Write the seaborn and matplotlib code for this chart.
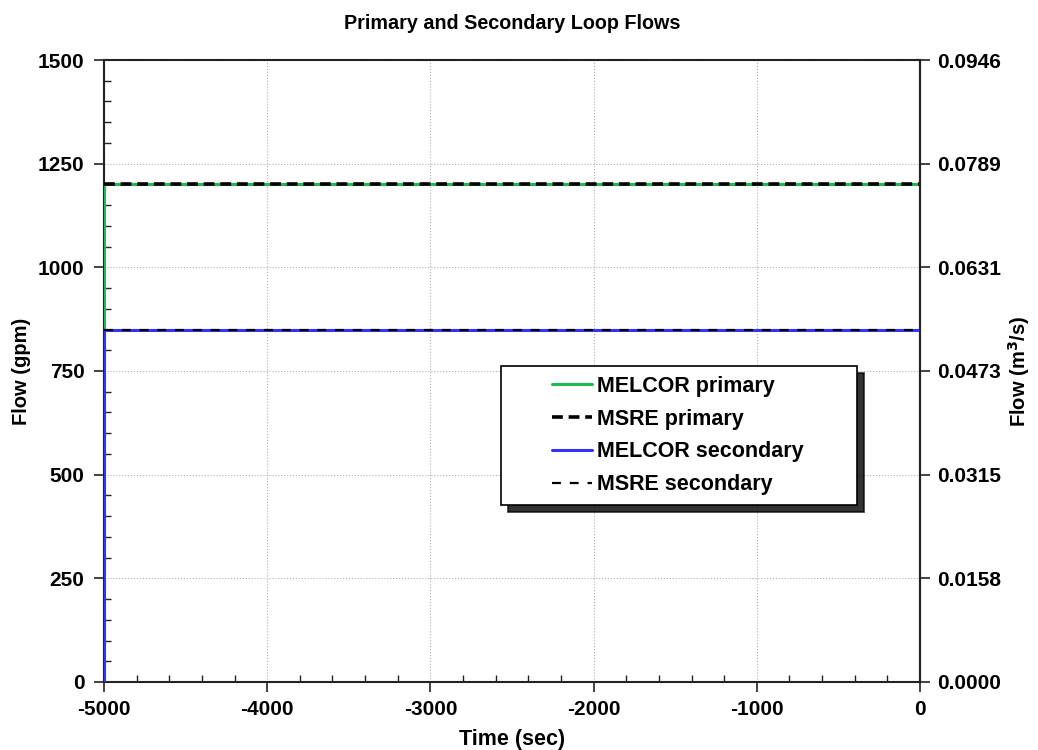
import numpy as np
import pandas as pd
import seaborn as sns
import matplotlib.pyplot as plt
from matplotlib.ticker import MultipleLocator
from matplotlib.legend_handler import HandlerLine2D

# Veriler
melcor_time = [-5000, -5000, 0]
melcor_primary = [0, 1200, 1200]
melcor_secondary = [0, 850, 850]
msre_time = [-5000, 0]
msre_primary = [1200, 1200]
msre_secondary = [850, 850]

gpm_to_m3s = 6.30902e-5
right_ticks = [0.0000, 0.0158, 0.0315, 0.0473, 0.0631, 0.0789, 0.0946]


# legend line only on the right half of the handle box
class RightLine(HandlerLine2D):
    def get_xdata(self, legend, xdescent, ydescent, width, height, fontsize):
        return ([-xdescent + 0.51 * width, -xdescent + width],
                [-xdescent + 0.75 * width])


sns.set_style("white")
plt.rcParams['font.family'] = ['Liberation Sans', 'DejaVu Sans']
plt.rcParams['font.weight'] = 'bold'
plt.rcParams['axes.unicode_minus'] = False
plt.rcParams['text.color'] = 'black'
plt.rcParams['axes.labelcolor'] = 'black'

fig = plt.figure(figsize=(10.38, 7.5), dpi=100)
ax = fig.add_axes([0.1002, 0.0907, 0.7861, 0.8293])

sns.lineplot(x=melcor_time, y=melcor_primary, sort=False, ax=ax, color="#1db954",
             linewidth=2.2, label="MELCOR primary", estimator=None, zorder=3)
sns.lineplot(x=msre_time, y=msre_primary, sort=False, ax=ax, color="black",
             linewidth=2.6, linestyle=(0, (3, 1.6)), label="MSRE primary",
             estimator=None, zorder=3)
sns.lineplot(x=melcor_time, y=melcor_secondary, sort=False, ax=ax, color="#3333ff",
             linewidth=2.2, label="MELCOR secondary", estimator=None, zorder=3)
sns.lineplot(x=msre_time, y=msre_secondary, sort=False, ax=ax, color="black",
             linewidth=1.6, linestyle=(0, (4, 4)), label="MSRE secondary",
             estimator=None, zorder=3)

ax.set_xlim(-5000, 0)
ax.set_ylim(0, 1500)
ax.xaxis.set_major_locator(MultipleLocator(1000))
ax.xaxis.set_minor_locator(MultipleLocator(200))
ax.yaxis.set_major_locator(MultipleLocator(250))
ax.yaxis.set_minor_locator(MultipleLocator(50))
ax.grid(True, which="major", color="#b0b0b0", linestyle=":", linewidth=0.8)
ax.tick_params(axis="both", which="major", direction="out", length=7, width=1.2,
               labelsize=15, colors="#222222", labelcolor="black",
               bottom=True, left=True)
ax.tick_params(axis="x", which="major", pad=6)
ax.tick_params(axis="y", which="major", pad=7)
ax.tick_params(axis="both", which="minor", direction="in", length=5, width=1,
               colors="#222222", bottom=True, left=True)
ax.tick_params(axis="y", which="both", right=False)
ax.tick_params(axis="x", which="both", top=False)
for s in ax.spines.values():
    s.set_color("#222222")
    s.set_linewidth(1.5)

ax.set_xlabel("Time (sec)", fontsize=15.5, fontweight="bold", labelpad=7)
ax.set_ylabel("Flow (gpm)", fontsize=14.5, fontweight="bold", labelpad=5)
ax.set_title("Primary and Secondary Loop Flows", fontsize=14.2, fontweight="bold", pad=22)

ax2 = ax.twinx()
ax2.set_ylim(0, 1500 * gpm_to_m3s)
ax2.set_yticks([v * gpm_to_m3s for v in range(0, 1501, 250)])
ax2.set_yticklabels([f"{t:.4f}" for t in right_ticks])
ax2.tick_params(axis="y", direction="out", length=7, width=1.2, labelsize=15,
                colors="#222222", labelcolor="black", right=True, pad=5)
ax2.set_ylabel("Flow (m$^3$/s)", fontsize=14.5, fontweight="bold", labelpad=4)
for name, s in ax2.spines.items():
    s.set_visible(name == "right")
    s.set_color("#222222")
    s.set_linewidth(1.5)

handles, labels = ax.get_legend_handles_labels()
ax.get_legend().remove()
leg = ax2.legend(handles, labels, loc="upper left",
                 bbox_to_anchor=(0.4865, 0.508, 0.4363, 0.0), mode="expand",
                 frameon=True, fancybox=False,
                 shadow={"color": "black", "alpha": 0.8, "ox": 5, "oy": -5},
                 edgecolor="black", fontsize=15.5, handlelength=3.76, handletextpad=0.23,
                 borderpad=0.45, labelspacing=0.55, borderaxespad=0,
                 handler_map={h: RightLine() for h in handles})
leg.get_frame().set_linewidth(1.2)
for t in leg.get_texts():
    t.set_fontweight("bold")

fig.savefig("out.png", dpi=100)
